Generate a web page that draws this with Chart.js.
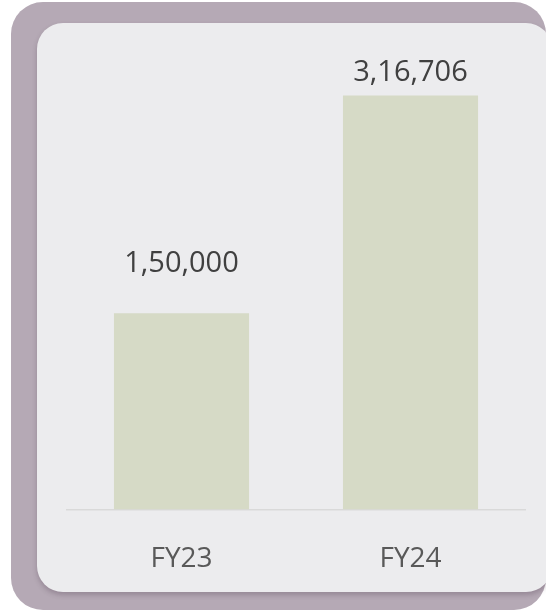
<!DOCTYPE html>
<html>
<head>
<meta charset="utf-8">
<script src="https://cdn.jsdelivr.net/npm/chart.js@4"></script>
<style>
  html, body { margin: 0; padding: 0; background: #fff; }
  body { width: 546px; height: 611px; position: relative; overflow: hidden; }
  .frame { position: absolute; left: 11px; top: 2px; width: 535px; height: 608px; background: #b5a9b5; border-radius: 32px; }
  .card  { position: absolute; left: 37px; top: 23px; width: 515px; height: 569px; background: #ececee; border-radius: 26px;
           box-shadow: 0 3px 5px rgba(60,40,60,0.25); }
  canvas { position: absolute; left: 0; top: 0; }
</style>
</head>
<body>
<div class="frame"></div>
<div class="card"></div>
<canvas id="chart" width="546" height="611"></canvas>
<script>
// data
const years  = ['FY23', 'FY24'];
const values = [150000, 316706];
const valueLabels = ['1,50,000', '3,16,706'];

const FONT = "'Open Sans', 'Noto Sans', sans-serif";

// value labels above bars, kept inside the card
const barLabels = {
  id: 'barLabels',
  afterDatasetsDraw(chart) {
    const ctx = chart.ctx;
    const meta = chart.getDatasetMeta(0);
    ctx.save();
    ctx.font = '29px ' + FONT;
    ctx.fillStyle = '#404040';
    ctx.textAlign = 'center';
    ctx.textBaseline = 'middle';
    meta.data.forEach((bar, i) => {
      const y = Math.max(bar.y - 50, 73);
      ctx.fillText(valueLabels[i], bar.x, y);
    });
    ctx.restore();
  }
};

new Chart(document.getElementById('chart').getContext('2d'), {
  type: 'bar',
  data: {
    labels: years,
    datasets: [{
      data: values,
      backgroundColor: '#d6dac6',
      borderWidth: 0,
      categoryPercentage: 1,
      barPercentage: 0.59
    }]
  },
  options: {
    responsive: false,
    animation: false,
    layout: { padding: { left: 67, right: 21, top: 52, bottom: 2 } },
    plugins: { legend: { display: false }, tooltip: { enabled: false } },
    scales: {
      x: {
        grid: { display: false, drawTicks: false },
        border: { display: true, color: '#d9d9d9', width: 1.5 },
        ticks: { color: '#595959', font: { family: FONT, size: 28 }, padding: 33 }
      },
      y: { display: false, min: 0, max: 350000 }
    }
  },
  plugins: [barLabels]
});
</script>
</body>
</html>
